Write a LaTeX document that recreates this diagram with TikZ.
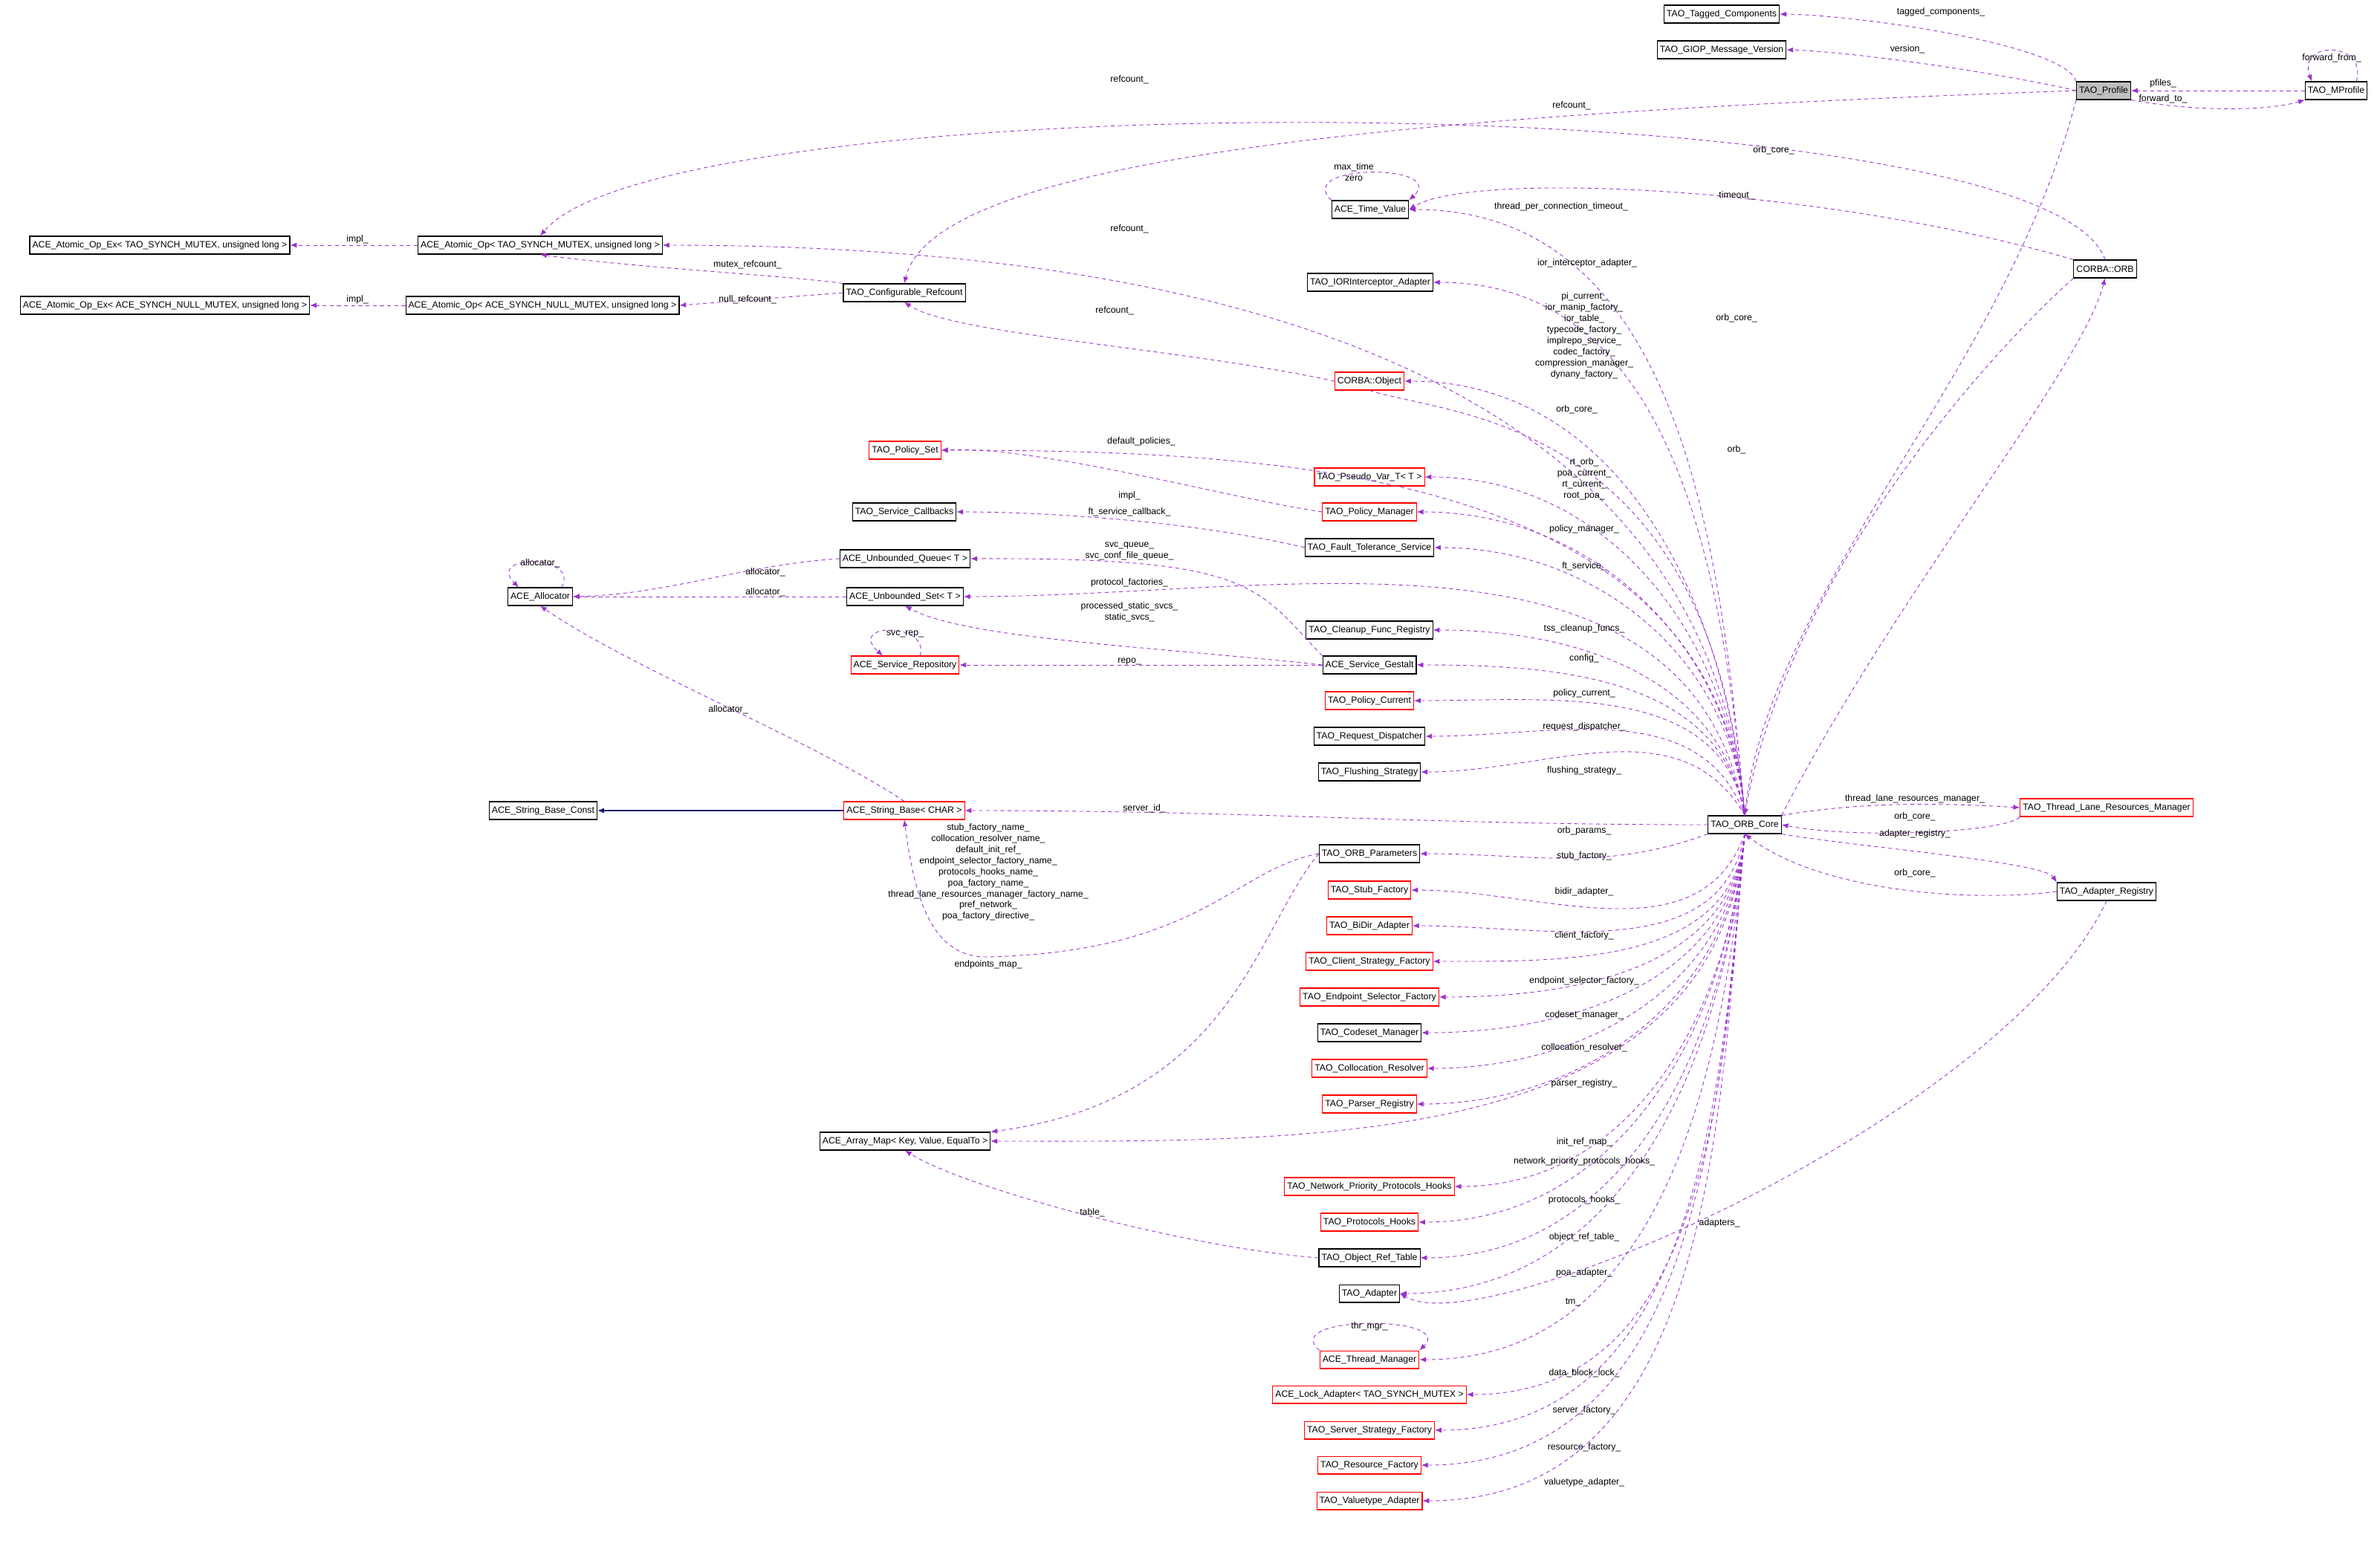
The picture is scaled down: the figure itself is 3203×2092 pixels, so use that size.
\documentclass[tikz,border=0pt]{standalone}
\usepackage{fontspec}
\setmainfont{Liberation Sans}
\usetikzlibrary{arrows.meta}
\definecolor{ep}{RGB}{153,50,204}
\definecolor{nv}{RGB}{25,25,112}
\tikzset{
 bx/.style={draw=black,line width=0.6pt,inner sep=2pt,minimum height=0.48cm,font=\fontsize{7}{8.5}\selectfont,fill=white},
 rb/.style={bx,draw=red},
 lb/.style={font=\fontsize{7}{8.5}\selectfont,align=center,inner sep=0pt},
 e/.style={draw=ep,line width=0.5pt,dash pattern=on 3pt off 2.5pt,-{Latex[length=5pt,width=4pt]}},
}
\begin{document}
\begin{tikzpicture}[x=0.02cm,y=-0.02cm]
\useasboundingbox (0,0) rectangle (3203,2092);
% nodes
\node[bx] (tag) at (2317,19) {TAO\_Tagged\_Components};
\node[bx] (giop) at (2317,67) {TAO\_GIOP\_Message\_Version};
\node[bx,fill=black!25] (prof) at (2831,122) {TAO\_Profile};
\node[bx] (mprof) at (3144,122) {TAO\_MProfile};
\node[bx] (ao5) at (727,330) {ACE\_Atomic\_Op< TAO\_SYNCH\_MUTEX, unsigned long >};
\node[bx] (aox6) at (215,330) {ACE\_Atomic\_Op\_Ex< TAO\_SYNCH\_MUTEX, unsigned long >};
\node[bx] (aox7) at (222,411) {ACE\_Atomic\_Op\_Ex< ACE\_SYNCH\_NULL\_MUTEX, unsigned long >};
\node[bx] (ao8) at (730,411) {ACE\_Atomic\_Op< ACE\_SYNCH\_NULL\_MUTEX, unsigned long >};
\node[bx] (cref) at (1217,394) {TAO\_Configurable\_Refcount};
\node[bx] (tv) at (1844,282) {ACE\_Time\_Value};
\node[bx] (ior) at (1844,380) {TAO\_IORInterceptor\_Adapter};
\node[bx] (orb) at (2833,362) {CORBA::ORB};
\node[rb] (obj) at (1843,513) {CORBA::Object};
\node[rb] (pset) at (1218,606) {TAO\_Policy\_Set};
\node[rb] (pvar) at (1843,642) {TAO\_Pseudo\_Var\_T< T >};
\node[rb] (pm) at (1843,689) {TAO\_Policy\_Manager};
\node[bx] (scb) at (1217,689) {TAO\_Service\_Callbacks};
\node[bx] (ft) at (1843,737) {TAO\_Fault\_Tolerance\_Service};
\node[bx] (uq) at (1218,752) {ACE\_Unbounded\_Queue< T >};
\node[bx] (alloc) at (727,803) {ACE\_Allocator};
\node[bx] (us) at (1218,803) {ACE\_Unbounded\_Set< T >};
\node[rb] (srep) at (1218,895) {ACE\_Service\_Repository};
\node[bx] (clean) at (1843,848) {TAO\_Cleanup\_Func\_Registry};
\node[bx] (gest) at (1843,895) {ACE\_Service\_Gestalt};
\node[rb] (pcur) at (1843,943) {TAO\_Policy\_Current};
\node[bx] (rd) at (1843,991) {TAO\_Request\_Dispatcher};
\node[bx] (fs) at (1843,1039) {TAO\_Flushing\_Strategy};
\node[bx] (sbc) at (731,1091) {ACE\_String\_Base\_Const};
\node[rb] (sb) at (1217,1091) {ACE\_String\_Base< CHAR >};
\node[bx] (core) at (2348,1110) {TAO\_ORB\_Core};
\node[rb] (tl) at (2835,1087) {TAO\_Thread\_Lane\_Resources\_Manager};
\node[bx] (areg) at (2835,1200) {TAO\_Adapter\_Registry};
\node[bx] (orbp) at (1843,1149) {TAO\_ORB\_Parameters};
\node[rb] (stub) at (1843,1198) {TAO\_Stub\_Factory};
\node[rb] (bidir) at (1843,1246) {TAO\_BiDir\_Adapter};
\node[rb] (csf) at (1843,1294) {TAO\_Client\_Strategy\_Factory};
\node[rb] (esf) at (1843,1342) {TAO\_Endpoint\_Selector\_Factory};
\node[bx] (csm) at (1843,1390) {TAO\_Codeset\_Manager};
\node[rb] (cres) at (1843,1438) {TAO\_Collocation\_Resolver};
\node[rb] (preg) at (1843,1486) {TAO\_Parser\_Registry};
\node[bx] (am) at (1218,1536) {ACE\_Array\_Map< Key, Value, EqualTo >};
\node[rb] (npph) at (1843,1597) {TAO\_Network\_Priority\_Protocols\_Hooks};
\node[rb] (ph) at (1843,1645) {TAO\_Protocols\_Hooks};
\node[bx] (ort) at (1843,1693) {TAO\_Object\_Ref\_Table};
\node[bx] (ad) at (1843,1741) {TAO\_Adapter};
\node[rb] (tm) at (1843,1830) {ACE\_Thread\_Manager};
\node[rb] (lock) at (1843,1877) {ACE\_Lock\_Adapter< TAO\_SYNCH\_MUTEX >};
\node[rb] (ssf) at (1843,1925) {TAO\_Server\_Strategy\_Factory};
\node[rb] (rf) at (1843,1972) {TAO\_Resource\_Factory};
\node[rb] (vta) at (1843,2020) {TAO\_Valuetype\_Adapter};

% edges top area
\draw[e] (prof.north west) .. controls (2780,60) and (2500,20) .. (tag.east);
\draw[e] (prof.west) .. controls (2700,100) and (2500,70) .. (giop.east);
\draw[e] (mprof.west) -- (prof.east);
\draw[e] (prof.south east) .. controls (2950,150) and (3050,150) .. (mprof.south west);
\draw[e] ([xshift=-0.3cm]mprof.north east) .. controls +(0.3cm,1.1cm) and +(-0.4cm,1.1cm) .. ([xshift=-1.5cm]mprof.north east);
\draw[e] (orb.north) .. controls (2750,110) and (900,110) .. (ao5.north);
\draw[e] (prof.west) .. controls (2000,150) and (1260,200) .. (cref.north);
\draw[e] (prof.south west) .. controls (2700,500) and (2380,800) .. (core.north);
\draw[e] (orb.north west) .. controls (2450,250) and (1980,230) .. (tv.east);
\draw[e] (tv.north west) .. controls (1740,220) and (1950,220) .. (tv.north east);
\draw[e] (ao5.west) -- (aox6.east);
\draw[e] (ao8.west) -- (aox7.east);
\draw[e] (cref.north west) .. controls (1050,370) and (850,360) .. (ao5.south);
\draw[e] (cref.west) -- (ao8.east);
\draw[e] (obj.west) .. controls (1600,470) and (1280,450) .. (cref.south);
\draw[e] (obj.south) .. controls (1950,560) and (2300,560) .. (core.north);
\draw[e] (core.north east) .. controls (2550,800) and (2800,500) .. (orb.south);
\draw[e] (orb.south west) .. controls (2650,500) and (2400,800) .. (core.north);
\draw[e] (pm.west) .. controls (1650,670) and (1400,600) .. (pset.east);
\draw[e] (ft.west) .. controls (1600,700) and (1400,689) .. (scb.east);
\draw[e] (gest.north west) .. controls (1690,790) and (1690,750) .. (uq.east);
\draw[e] (gest.west) .. controls (1550,870) and (1300,860) .. (us.south);
\draw[e] (uq.west) .. controls (1000,760) and (900,800) .. (alloc.east);
\draw[e] (us.west) -- (alloc.east);
\draw[e] ([xshift=-0.3cm]alloc.north east) .. controls +(0.5cm,0.9cm) and +(-0.9cm,0.9cm) .. ([xshift=0.3cm]alloc.north west);
\draw[e] ([xshift=0.4cm]srep.north) .. controls +(0.3cm,0.9cm) and +(-1cm,0.9cm) .. ([xshift=-0.6cm]srep.north);
\draw[e] (gest.west) -- (srep.east);
\draw[draw=nv,line width=0.6pt,-{Latex[length=5pt,width=4pt]}] (sb.west) -- (sbc.east);
\draw[e] (sb.north) .. controls (1100,1000) and (850,900) .. (alloc.south);
\coordinate (m1) at (1330,1288);
\draw[e] (orbp.west) .. controls (1660,1170) and (1620,1280) .. (m1) .. controls (1250,1290) and (1230,1200) .. (sb.south);
\draw[e] (orbp.west) .. controls (1690,1250) and (1660,1480) .. (am.north east);
\draw[e] (ort.west) .. controls (1600,1680) and (1300,1600) .. (am.south);
\draw[e] (tm.north west) .. controls (1720,1770) and (1960,1770) .. (tm.north east);
\draw[e] (core.north east) .. controls (2500,1080) and (2600,1080) .. (tl.west);
\draw[e] (tl.south west) .. controls (2700,1120) and (2500,1130) .. (core.east);
\draw[e] (core.south east) .. controls (2500,1140) and (2750,1160) .. (areg.north west);
\draw[e] (areg.west) .. controls (2650,1215) and (2450,1200) .. (core.south);
\draw[e] (areg.south) .. controls (2700,1500) and (2000,1810) .. (ad.east);
% core fan
\draw[e] (core.north) to[out=95,in=0] (ao5.east);
\draw[e] (core.north) to[out=95,in=0] (tv.east);
\draw[e] (core.north) to[out=95,in=0] (ior.east);
\draw[e] (core.north) to[out=95,in=0] (obj.east);
\draw[e] (core.north) to[out=95,in=0] (pset.east);
\draw[e] (core.north) to[out=95,in=0] (pvar.east);
\draw[e] (core.north) to[out=95,in=0] (pm.east);
\draw[e] (core.north) to[out=95,in=0] (ft.east);
\draw[e] (core.north) to[out=100,in=0] (us.east);
\draw[e] (core.north) to[out=100,in=0] (clean.east);
\draw[e] (core.north) to[out=100,in=0] (gest.east);
\draw[e] (core.north) to[out=100,in=0] (pcur.east);
\draw[e] (core.north) to[out=110,in=0] (rd.east);
\draw[e] (core.north) to[out=120,in=0] (fs.east);
\draw[e] (core.west) to[out=180,in=0] (sb.east);
\draw[e] (core.south west) to[out=200,in=0] (orbp.east);
\draw[e] (core.south) to[out=-110,in=0] (stub.east);
\draw[e] (core.south) to[out=-100,in=0] (bidir.east);
\draw[e] (core.south) to[out=-95,in=0] (csf.east);
\draw[e] (core.south) to[out=-95,in=0] (esf.east);
\draw[e] (core.south) to[out=-95,in=0] (csm.east);
\draw[e] (core.south) to[out=-95,in=0] (cres.east);
\draw[e] (core.south) to[out=-95,in=0] (preg.east);
\draw[e] (core.south) to[out=-95,in=0] (am.east);
\draw[e] (core.south) to[out=-95,in=0] (npph.east);
\draw[e] (core.south) to[out=-95,in=0] (ph.east);
\draw[e] (core.south) to[out=-95,in=0] (ort.east);
\draw[e] (core.south) to[out=-95,in=0] (ad.east);
\draw[e] (core.south) to[out=-95,in=0] (tm.east);
\draw[e] (core.south) to[out=-95,in=0] (lock.east);
\draw[e] (core.south) to[out=-95,in=0] (ssf.east);
\draw[e] (core.south) to[out=-95,in=0] (rf.east);
\draw[e] (core.south) to[out=-95,in=0] (vta.east);

% labels
\node[lb] (l1) at (2612,16) {tagged\_components\_};
\node[lb] (l2) at (2567,66) {version\_};
\node[lb] (l3) at (2911,112) {pfiles\_};
\node[lb] (l4) at (2911,133) {forward\_to\_};
\node[lb] (l5) at (3138,78) {forward\_from\_};
\node[lb] (l6) at (1520,107) {refcount\_};
\node[lb] (l7) at (2115,142) {refcount\_};
\node[lb] (l8) at (2387,202) {orb\_core\_};
\node[lb] (l9) at (1822,232) {max\_time\\zero};
\node[lb] (l10) at (2337,263) {timeout\_};
\node[lb] (l11) at (2101,278) {thread\_per\_connection\_timeout\_};
\node[lb] (l12) at (481,322) {impl\_};
\node[lb] (l13) at (481,403) {impl\_};
\node[lb] (l14) at (1006,356) {mutex\_refcount\_};
\node[lb] (l15) at (1006,403) {null\_refcount\_};
\node[lb] (l16) at (1520,308) {refcount\_};
\node[lb] (l17) at (1500,418) {refcount\_};
\node[lb] (l18) at (2136,354) {ior\_interceptor\_adapter\_};
\node[lb] (l19) at (2132,452) {pi\_current\_\\ior\_manip\_factory\_\\ior\_table\_\\typecode\_factory\_\\implrepo\_service\_\\codec\_factory\_\\compression\_manager\_\\dynany\_factory\_};
\node[lb] (l20) at (2337,428) {orb\_core\_};
\node[lb] (l21) at (2122,551) {orb\_core\_};
\node[lb] (l22) at (2337,605) {orb\_};
\node[lb] (l23) at (1536,594) {default\_policies\_};
\node[lb] (l24) at (1520,667) {impl\_};
\node[lb] (l25) at (2132,645) {rt\_orb\_\\poa\_current\_\\rt\_current\_\\root\_poa\_};
\node[lb] (l26) at (2132,712) {policy\_manager\_};
\node[lb] (l27) at (1520,689) {ft\_service\_callback\_};
\node[lb] (l28) at (2132,762) {ft\_service\_};
\node[lb] (l29) at (1520,742) {svc\_queue\_\\svc\_conf\_file\_queue\_};
\node[lb] (l30) at (1520,784) {protocol\_factories\_};
\node[lb] (l31) at (1520,824) {processed\_static\_svcs\_\\static\_svcs\_};
\node[lb] (l32) at (1030,770) {allocator\_};
\node[lb] (l33) at (1030,797) {allocator\_};
\node[lb] (l34) at (727,758) {allocator\_};
\node[lb] (l35) at (1218,853) {svc\_rep\_};
\node[lb] (l36) at (1520,890) {repo\_};
\node[lb] (l37) at (2132,846) {tss\_cleanup\_funcs\_};
\node[lb] (l38) at (2132,886) {config\_};
\node[lb] (l39) at (2132,933) {policy\_current\_};
\node[lb] (l40) at (2132,978) {request\_dispatcher\_};
\node[lb] (l41) at (2132,1037) {flushing\_strategy\_};
\node[lb] (l42) at (1540,1088) {server\_id\_};
\node[lb] (l43) at (980,955) {allocator\_};
\node[lb] (l44) at (1330,1174) {stub\_factory\_name\_\\collocation\_resolver\_name\_\\default\_init\_ref\_\\endpoint\_selector\_factory\_name\_\\protocols\_hooks\_name\_\\poa\_factory\_name\_\\thread\_lane\_resources\_manager\_factory\_name\_\\pref\_network\_\\poa\_factory\_directive\_};
\node[lb] (l45) at (1330,1298) {endpoints\_map\_};
\node[lb] (l46) at (2577,1075) {thread\_lane\_resources\_manager\_};
\node[lb] (l47) at (2577,1099) {orb\_core\_};
\node[lb] (l48) at (2577,1122) {adapter\_registry\_};
\node[lb] (l49) at (2577,1175) {orb\_core\_};
\node[lb] (l50) at (2132,1118) {orb\_params\_};
\node[lb] (l51) at (2132,1152) {stub\_factory\_};
\node[lb] (l52) at (2132,1200) {bidir\_adapter\_};
\node[lb] (l53) at (2132,1259) {client\_factory\_};
\node[lb] (l54) at (2132,1320) {endpoint\_selector\_factory\_};
\node[lb] (l55) at (2132,1366) {codeset\_manager\_};
\node[lb] (l56) at (2132,1410) {collocation\_resolver\_};
\node[lb] (l57) at (2132,1458) {parser\_registry\_};
\node[lb] (l58) at (2132,1537) {init\_ref\_map\_};
\node[lb] (l59) at (2132,1563) {network\_priority\_protocols\_hooks\_};
\node[lb] (l60) at (2132,1615) {protocols\_hooks\_};
\node[lb] (l61) at (2132,1665) {object\_ref\_table\_};
\node[lb] (l62) at (2132,1713) {poa\_adapter\_};
\node[lb] (l63) at (2117,1753) {tm\_};
\node[lb] (l64) at (1843,1785) {thr\_mgr\_};
\node[lb] (l65) at (2132,1848) {data\_block\_lock\_};
\node[lb] (l66) at (2132,1898) {server\_factory\_};
\node[lb] (l67) at (2132,1948) {resource\_factory\_};
\node[lb] (l68) at (2132,1995) {valuetype\_adapter\_};
\node[lb] (l69) at (1470,1632) {table\_};
\node[lb] (l70) at (2314,1646) {adapters\_};
\end{tikzpicture}
\end{document}
